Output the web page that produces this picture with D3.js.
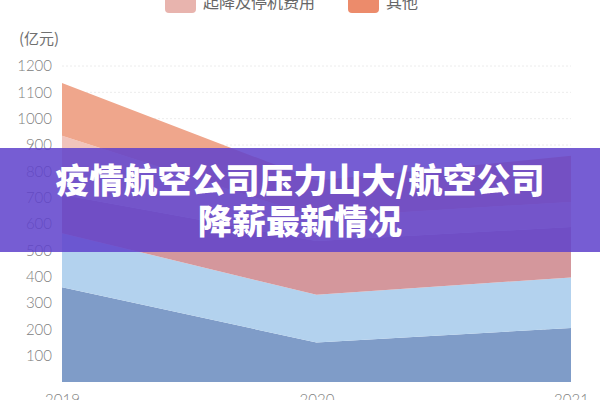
<!DOCTYPE html>
<html>
<head>
<meta charset="utf-8">
<script src="https://cdn.jsdelivr.net/npm/d3@7"></script>
<style>
  body { margin: 0; background: #fff; }
  svg { display: block; }
</style>
</head>
<body>
<div class="chart"></div>
<script>
// years on the x axis
var years = ["2019", "2020", "2021"];

// series, bottom to top (only the last two legend names are visible)
var seriesKeys = ["s1", "s2", "s3", "起降及停机费用", "其他"];
var s1Values = [360, 150, 205];
var s2Values = [205, 181, 192];
var s3Values = [146, 204, 192];
var landingValues = [224, 90, 95];
var otherValues = [200, 140, 175];

var yTicks = [100, 200, 300, 400, 500, 600, 700, 800, 900, 1000, 1100, 1200];
var legendNames = ["起降及停机费用", "其他"];

var areaColors = ["#7f9cc8", "#b3d2ee", "#d4979c", "#f1c4bc", "#efa68c"];
var legendColors = ["#e8b4ae", "#ec8b6b"];

var titleLines = ["疫情航空公司压力山大/航空公司", "降薪最新情况"];

var svgWidth = 600, svgHeight = 400;
var margin = { top: 66, right: 29, bottom: 18, left: 62 };
var width = svgWidth - margin.left - margin.right;
var height = svgHeight - margin.top - margin.bottom;

var svg = d3.select(".chart")
  .append("svg")
  .attr("width", svgWidth)
  .attr("height", svgHeight);

var chartGroup = svg.append("g")
  .attr("transform", `translate(${margin.left}, ${margin.top})`);

// build rows for d3.stack
var allValues = [s1Values, s2Values, s3Values, landingValues, otherValues];
var rows = years.map(function(year, i) {
  var row = { year: year };
  seriesKeys.forEach(function(k, j) { row[k] = allValues[j][i]; });
  return row;
});

var stacked = d3.stack().keys(seriesKeys)(rows);

var xScale = d3.scalePoint()
  .domain(years)
  .range([0, width]);

var yScale = d3.scaleLinear()
  .domain([0, 1200])
  .range([height, 0]);

// grid lines
chartGroup.append("g")
  .selectAll("line")
  .data(yTicks)
  .enter()
  .append("line")
  .attr("x1", 0)
  .attr("x2", width)
  .attr("y1", d => yScale(d))
  .attr("y2", d => yScale(d))
  .attr("stroke", "#ececec")
  .attr("stroke-dasharray", "2,2");

var area = d3.area()
  .x(d => xScale(d.data.year))
  .y0(d => yScale(d[0]))
  .y1(d => yScale(d[1]));

chartGroup.selectAll(".layer")
  .data(stacked)
  .enter()
  .append("path")
  .attr("class", "layer")
  .attr("d", area)
  .attr("fill", (d, i) => areaColors[i]);

// y axis labels
var yAxis = d3.axisLeft(yScale)
  .tickValues(yTicks)
  .tickFormat(d3.format("d"))
  .tickSize(0)
  .tickPadding(10);

var yAxisGroup = chartGroup.append("g").call(yAxis);
yAxisGroup.select(".domain").remove();
yAxisGroup.selectAll("text")
  .attr("fill", "#808080")
  .style("font-family", "Lato, 'Noto Sans', sans-serif")
  .style("font-weight", "300")
  .style("font-size", "15px");

// x axis labels (cut off by the frame, as in the source)
var xAxis = d3.axisBottom(xScale)
  .tickSize(0)
  .tickPadding(12);

var xAxisGroup = chartGroup.append("g")
  .attr("transform", `translate(0, ${height})`)
  .call(xAxis);
xAxisGroup.select(".domain").remove();
xAxisGroup.selectAll("text")
  .attr("fill", "#808080")
  .style("font-family", "Lato, 'Noto Sans', sans-serif")
  .style("font-weight", "300")
  .style("font-size", "15px");

// unit label
svg.append("text")
  .attr("x", 19)
  .attr("y", 44)
  .attr("fill", "#707070")
  .style("font-family", "'Noto Sans CJK SC', sans-serif")
  .style("font-size", "15px")
  .text("(亿元)");

// legend (top row cut off by the frame)
var legendX = [165, 348];
var legend = svg.append("g");
legendNames.forEach(function(name, i) {
  legend.append("rect")
    .attr("x", legendX[i])
    .attr("y", -8)
    .attr("width", 31)
    .attr("height", 21)
    .attr("rx", 4)
    .attr("fill", legendColors[i]);
  legend.append("text")
    .attr("x", legendX[i] + 38)
    .attr("y", 8)
    .attr("fill", "#666")
    .style("font-family", "'Noto Sans CJK SC', sans-serif")
    .style("font-size", "16px")
    .text(name);
});

// title banner
svg.append("rect")
  .attr("x", 0)
  .attr("y", 148)
  .attr("width", svgWidth)
  .attr("height", 104)
  .attr("fill", "rgb(96, 66, 204)")
  .attr("opacity", 0.86);

svg.append("g")
  .selectAll("text")
  .data(titleLines)
  .enter()
  .append("text")
  .attr("x", svgWidth / 2)
  .attr("y", (d, i) => 193 + i * 41)
  .attr("text-anchor", "middle")
  .attr("fill", "#fff")
  .style("font-family", "'Noto Sans CJK SC', sans-serif")
  .style("font-weight", "900")
  .style("font-size", "34px")
  .text(d => d);
</script>
</body>
</html>
